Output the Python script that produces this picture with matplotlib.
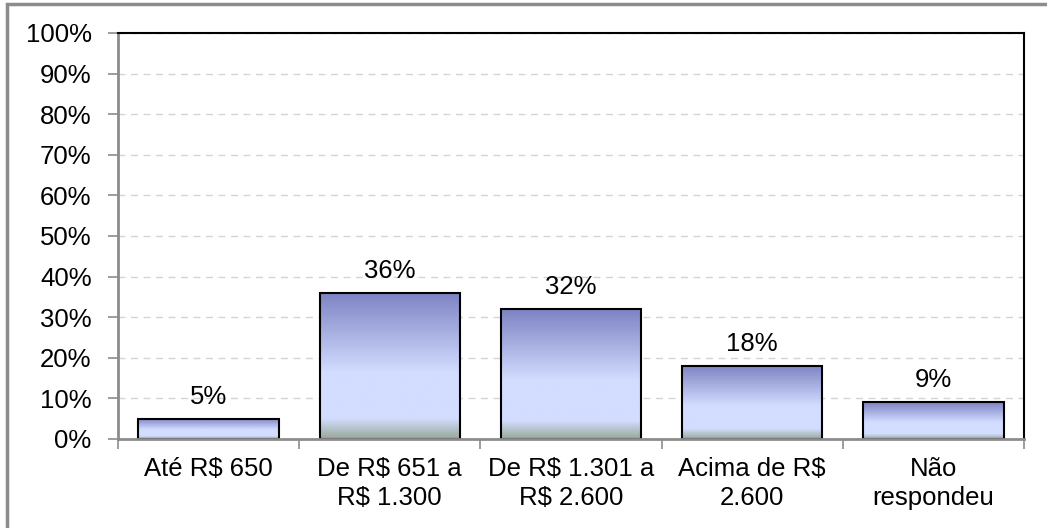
import matplotlib.pyplot as plt
import numpy as np
from matplotlib.colors import LinearSegmentedColormap
from matplotlib.patches import Rectangle
from matplotlib.ticker import FuncFormatter, MultipleLocator

plt.rcParams['font.family'] = ['Liberation Sans', 'DejaVu Sans']

categories = ['Até R$ 650', 'De R$ 651 a\nR$ 1.300', 'De R$ 1.301 a\nR$ 2.600',
              'Acima de R$\n2.600', 'Não\nrespondeu']
values = [5, 36, 32, 18, 9]

fig = plt.figure(figsize=(10.47, 5.28), dpi=100)
ax = fig.add_axes([118 / 1047, 1 - 439 / 528, (1024 - 118) / 1047, (439 - 33) / 528])

# outer frame of the chart
fig.patches.append(Rectangle((7 / 1047, -0.05), 1.1, 1 - 4 / 528 + 0.05,
                             transform=fig.transFigure, fill=False,
                             edgecolor='#8c8c8c', linewidth=2.5, zorder=0))

# vertical gradient used inside each bar (top -> bottom)
cmap = LinearSegmentedColormap.from_list('bar', [
    (0.0, '#7d83c3'), (0.55, '#d3ddff'), (0.86, '#d3ddff'), (1.0, '#98a898')])
grad = np.linspace(0, 1, 256).reshape(-1, 1)

x = np.arange(len(categories))
width = 0.775
bars = ax.bar(x, values, width, color='none', edgecolor='black', linewidth=1.5, zorder=3)
for b, v in zip(bars, values):
    x0 = b.get_x()
    im = ax.imshow(grad, cmap=cmap, aspect='auto', extent=[x0, x0 + width, 0, v],
                   origin='upper', zorder=2, interpolation='bicubic')
    im.set_clip_path(b)
    ax.text(b.get_x() + width / 2, v + 2.5, f'{v}%', ha='center', va='bottom', fontsize=18.5)

ax.set_xlim(-0.5, len(categories) - 0.5)
ax.set_ylim(0, 100)
ax.yaxis.set_major_locator(MultipleLocator(10))
ax.yaxis.set_major_formatter(FuncFormatter(lambda v, p: f'{v:.0f}%'))
ax.yaxis.grid(True, linestyle=(0, (5, 4)), color='#d4d4d4', linewidth=1)
ax.set_axisbelow(True)

ax.set_xticks(x)
ax.set_xticklabels(categories, fontsize=18.5, linespacing=1.25)
ax.set_xticks(np.arange(-0.5, len(categories)), minor=True)
ax.tick_params(axis='x', which='major', length=0, pad=13)
ax.tick_params(axis='x', which='minor', length=7, color='#8c8c8c', width=1.2)
ax.tick_params(axis='y', labelsize=18.5, length=7, color='#8c8c8c', width=1.2, pad=12)

for side in ('left', 'bottom'):
    ax.spines[side].set_color('#8c8c8c')
    ax.spines[side].set_linewidth(2)
for side in ('top', 'right'):
    ax.spines[side].set_color('black')
    ax.spines[side].set_linewidth(1.5)
ax.spines['bottom'].set_zorder(4)

fig.savefig('out.png', dpi=100)
